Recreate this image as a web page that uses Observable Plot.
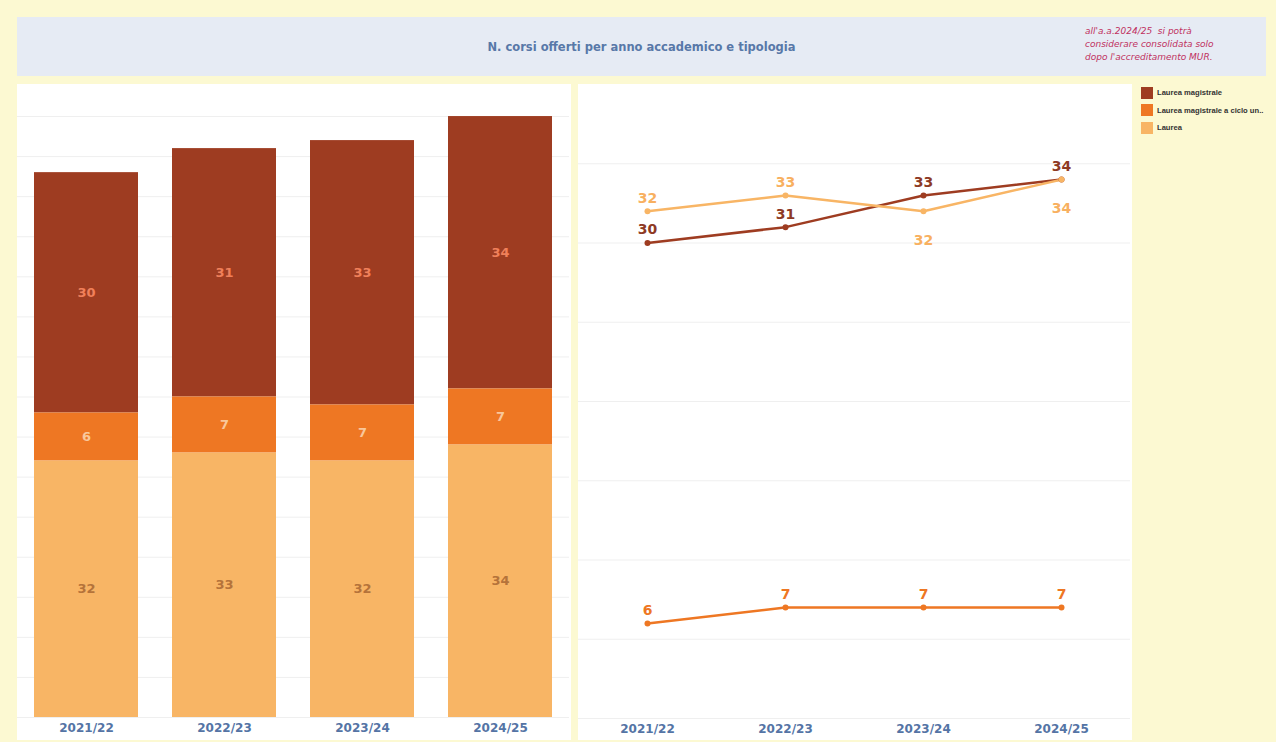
<!DOCTYPE html>
<html><head><meta charset="utf-8">
<script src="https://cdn.jsdelivr.net/npm/d3@7"></script>
<script src="https://cdn.jsdelivr.net/npm/@observablehq/plot@0.6"></script>
<style>
html,body{margin:0;padding:0}
body{background:#FCF9D2;width:1276px;height:742px;position:relative;overflow:hidden;font-family:"DejaVu Sans",sans-serif}
#title{position:absolute;left:17px;top:17px;width:1249px;height:59px;background:#E6EBF4}
#title h1{position:absolute;left:0;width:1249px;top:23px;margin:0;text-align:center;font-size:11.5px;font-weight:bold;color:#5878A8}
#note{position:absolute;left:1085px;top:25px;font-size:9px;line-height:13px;font-style:italic;color:#C0315F;white-space:pre}
.panel{position:absolute;top:84px;width:554px;height:656px;background:#fff}
#left{left:17px}
#right{left:578px}
#legend{position:absolute;left:1141px;top:84px;font-family:"Liberation Sans",Arial,sans-serif;font-size:7.6px;font-weight:bold;color:#333;white-space:nowrap}
#legend div{display:flex;align-items:center;height:17.5px}
#legend span.sw{display:inline-block;width:12px;height:12px;margin-right:4px}
</style></head>
<body>
<div id="title"><h1>N. corsi offerti per anno accademico e tipologia</h1></div>
<div id="note">all'a.a.2024/25  si potrà
considerare consolidata solo
dopo l'accreditamento MUR.</div>
<div class="panel" id="left"></div>
<div class="panel" id="right"></div>
<div id="legend"></div>
<script>
const years = ["2021/22", "2022/23", "2023/24", "2024/25"];
const tipologie = ["Laurea magistrale", "Laurea magistrale a ciclo unico", "Laurea"];
const legendLabels = ["Laurea magistrale", "Laurea magistrale a ciclo un..", "Laurea"];
const laureaMagistrale = [30, 31, 33, 34];
const cicloUnico = [6, 7, 7, 7];
const laurea = [32, 33, 32, 34];

const colors = ["#9E3C21", "#EE7723", "#F8B565"];
const barLabelColors = {"Laurea magistrale": "#F0805A", "Laurea magistrale a ciclo unico": "#F9C79B", "Laurea": "#B5733A"};
const lineLabelColors = {"Laurea magistrale": "#8E3A24", "Laurea magistrale a ciclo unico": "#EE7723", "Laurea": "#F8B060"};

const series = {"Laurea magistrale": laureaMagistrale, "Laurea magistrale a ciclo unico": cicloUnico, "Laurea": laurea};
const rows = [];
tipologie.forEach(t => years.forEach((y, i) => rows.push({year: y, tipo: t, value: series[t][i]})));
const stackOrder = ["Laurea", "Laurea magistrale a ciclo unico", "Laurea magistrale"];

const font = "DejaVu Sans, sans-serif";
const axisStyle = {fontFamily: font, fontSize: "12px", fontWeight: "bold", color: "#5474A5", background: "white", overflow: "visible"};

const left = Plot.plot({
  width: 554, height: 656,
  marginTop: 0, marginBottom: 23, marginLeft: 0, marginRight: 2,
  style: axisStyle,
  x: {domain: years, paddingInner: 0.246, paddingOuter: 0.123, label: null, tickSize: 0, tickPadding: 6},
  y: {domain: [0, 79], axis: null},
  color: {domain: tipologie, range: colors},
  marks: [
    Plot.ruleY(d3.range(0, 80, 5), {stroke: "#EFEFEF"}),
    Plot.barY(rows, {x: "year", y: "value", fill: "tipo", order: stackOrder}),
    Plot.text(rows, Plot.stackY({x: "year", y: "value", z: "tipo", order: stackOrder, text: "value",
      fill: d => barLabelColors[d.tipo], fontSize: 13, fontWeight: "bold"}))
  ]
});
document.getElementById("left").appendChild(left);

function below(d) {
  if (d.tipo !== "Laurea") return false;
  const i = years.indexOf(d.year);
  return laurea[i] <= laureaMagistrale[i];
}

const right = Plot.plot({
  width: 554, height: 656,
  marginTop: 0, marginBottom: 22, marginLeft: 0, marginRight: 2,
  style: axisStyle,
  x: {type: "point", domain: years, padding: 0.5, label: null, tickSize: 0, tickPadding: 6},
  y: {domain: [0, 40], axis: null},
  color: {domain: tipologie, range: colors},
  marks: [
    Plot.ruleY(d3.range(0, 40, 5), {stroke: "#EFEFEF"}),
    Plot.line(rows, {x: "year", y: "value", stroke: "tipo", strokeWidth: 2.5}),
    Plot.dot(rows, {x: "year", y: "value", fill: "tipo", r: 3}),
    Plot.text(rows, {filter: d => !below(d), x: "year", y: "value", text: "value", dy: -13,
      fill: d => lineLabelColors[d.tipo], fontSize: 14, fontWeight: "bold"}),
    Plot.text(rows, {filter: d => below(d), x: "year", y: "value", text: "value", dy: 29,
      fill: d => lineLabelColors[d.tipo], fontSize: 14, fontWeight: "bold"})
  ]
});
document.getElementById("right").appendChild(right);

const leg = document.getElementById("legend");
tipologie.forEach((t, i) => {
  const row = document.createElement("div");
  row.innerHTML = `<span class="sw" style="background:${colors[i]}"></span>${legendLabels[i]}`;
  leg.appendChild(row);
});
</script>
</body></html>
